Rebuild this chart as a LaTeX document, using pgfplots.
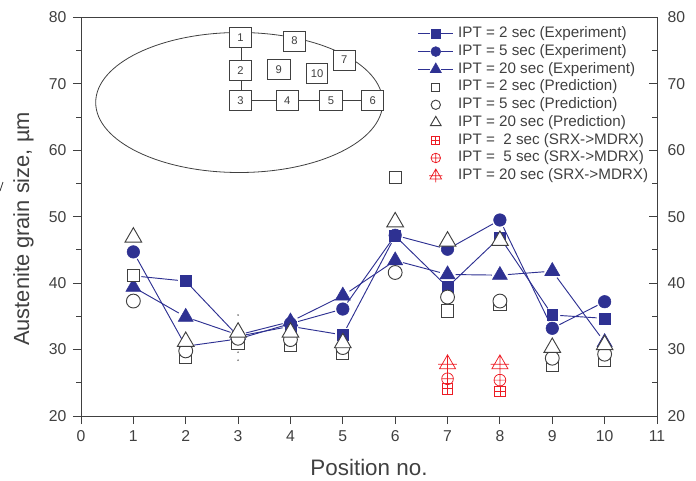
\documentclass[border=0pt]{standalone}
\usepackage{fontspec}
\usepackage{pgfplots}
\usepackage{pgfplotstable}
\pgfplotsset{compat=1.18}
\usetikzlibrary{plotmarks}
\setmainfont{Liberation Sans}

\definecolor{navy}{RGB}{46,49,146}
\definecolor{redm}{RGB}{237,28,36}
\definecolor{ink}{RGB}{64,64,64}

% red marks with a cross through them
\pgfdeclareplotmark{sqplus}{%
  \pgfpathrectangle{\pgfqpoint{-\pgfplotmarksize}{-\pgfplotmarksize}}{\pgfqpoint{2\pgfplotmarksize}{2\pgfplotmarksize}}%
  \pgfpathmoveto{\pgfqpoint{-\pgfplotmarksize}{0pt}}\pgfpathlineto{\pgfqpoint{\pgfplotmarksize}{0pt}}%
  \pgfpathmoveto{\pgfqpoint{0pt}{-\pgfplotmarksize}}\pgfpathlineto{\pgfqpoint{0pt}{\pgfplotmarksize}}%
  \pgfusepathqstroke}
\pgfdeclareplotmark{triplus}{%
  \pgfpathmoveto{\pgfqpointpolar{90}{\pgfplotmarksize}}%
  \pgfpathlineto{\pgfqpointpolar{210}{\pgfplotmarksize}}%
  \pgfpathlineto{\pgfqpointpolar{330}{\pgfplotmarksize}}%
  \pgfpathclose
  \pgfpathmoveto{\pgfqpoint{0pt}{\pgfplotmarksize}}\pgfpathlineto{\pgfqpoint{0pt}{-\pgfplotmarksize}}%
  \pgfpathmoveto{\pgfqpointpolar{180}{\pgfplotmarksize}}\pgfpathlineto{\pgfqpointpolar{0}{\pgfplotmarksize}}%
  \pgfusepathqstroke}

\pgfplotstableread{
x y
1 41.1
2 40.3
3 32.0
4 33.5
5 32.2
6 47.1
7 39.4
8 46.9
9 35.2
10 34.7
}\expA
\pgfplotstableread{
x y
1 44.7
2 30.5
3 31.6
4 33.9
5 36.1
6 47.2
7 45.1
8 49.5
9 33.2
10 37.2
}\expB
\pgfplotstableread{
x y
1 39.4
2 34.9
3 32.2
4 34.2
5 38.1
6 43.4
7 41.3
8 41.2
9 41.8
10 31.1
}\expC
\pgfplotstableread{
x y
1 41.2
2 28.9
3 31.0
4 30.7
5 29.5
6 55.9
7 35.8
8 36.8
9 27.6
10 28.4
}\preA
\pgfplotstableread{
x y
1 37.3
2 29.8
3 31.7
4 31.5
5 30.3
6 41.6
7 37.9
8 37.3
9 28.7
10 29.3
}\preB
\pgfplotstableread{
x y
1 46.9
2 31.2
3 32.6
4 32.6
5 31.0
6 49.2
7 46.3
8 46.4
9 30.3
10 30.7
}\preC
\pgfplotstableread{
x y
7 24.1
8 23.7
}\redA
\pgfplotstableread{
x y
7 25.6
8 25.4
}\redB
\pgfplotstableread{
x y
7 27.8
8 27.8
}\redC
\pgfplotstableread{
x y
3 35.2
3 29.6
3 28.4
}\stray

\pgfplotsset{
  seg/.style={navy, line width=0.7pt, mark=none, forget plot, shorten <=6pt, shorten >=6pt},
  legexp/.style={legend image code/.code={
    \draw[navy, line width=0.7pt] (0pt,0pt)--(9pt,0pt) (17.5pt,0pt)--(26.5pt,0pt);
    \draw[##1, mark size=#1] plot coordinates {(13.25pt,0pt)};}},
  legmark/.style={legend image code/.code={
    \draw[##1, mark size=#1] plot coordinates {(13.25pt,0pt)};}},
  open/.style={only marks, ink, line width=0.7pt, mark options={fill=white, draw=ink}},
  filled/.style={only marks, navy, mark options={fill=navy, draw=navy}},
  redmark/.style={only marks, redm, line width=0.55pt, mark options={draw=redm}},
  frame/.style={
    scale only axis, width=432pt, height=299pt, at={(60.75pt,48pt)}, anchor=south west,
    xmin=0, xmax=11, ymin=20, ymax=80,
    ytick={20,30,...,80}, minor y tick num=1,
    major tick length=6pt, minor tick length=3.4pt,
    axis line style={ink, line width=0.7pt},
    every tick/.style={ink, line width=0.7pt},
    tick label style={font=\fontsize{11.8}{14}\selectfont, text=ink},
    /pgf/number format/assume math mode=true,
  },
}
% one line piece between neighbouring positions, so it can stop short of the marks
\newcommand{\oneseg}[3]{\addplot[seg, restrict x to domain=#2:#3] table {#1};}
\newcommand{\segs}[1]{\oneseg{#1}{1}{2}\oneseg{#1}{2}{3}\oneseg{#1}{3}{4}\oneseg{#1}{4}{5}%
  \oneseg{#1}{5}{6}\oneseg{#1}{6}{7}\oneseg{#1}{7}{8}\oneseg{#1}{8}{9}\oneseg{#1}{9}{10}}

\begin{document}
\begin{tikzpicture}
\path[use as bounding box] (0,0) rectangle (522pt,360pt);

% right-hand scale, ticks point inward
\begin{axis}[frame, axis x line=none, axis y line*=right, tick align=inside,
  yticklabel pos=right, yticklabel style={xshift=4.5pt}]
\end{axis}

\begin{axis}[frame, tick align=outside, xtick={0,1,...,11}, xtick pos=bottom, ytick pos=left,
  yticklabel style={xshift=-1.5pt}, xticklabel style={yshift=-1.5pt},
  legend style={at={(0.584,0.977)}, anchor=north west, draw=none, fill=none, inner sep=0pt,
    font=\fontsize{11.4}{13}\selectfont, text=ink, row sep=2.7pt,
    nodes={inner sep=0pt, text height=8.2pt, text depth=2.4pt}},
  legend cell align=left]

\segs{\expA}
\segs{\expB}
\segs{\expC}

\addplot[filled, mark=square*, mark size=4.1pt, legexp=3.1pt] table {\expA};
\addlegendentry{\ IPT = 2 sec (Experiment)}
\addplot[filled, mark=*, mark size=4.7pt, legexp=3.7pt] table {\expB};
\addlegendentry{\ IPT = 5 sec (Experiment)}
\addplot[filled, mark=triangle*, mark size=6.5pt, legexp=4.8pt] table {\expC};
\addlegendentry{\ IPT = 20 sec (Experiment)}
\addplot[open, mark=square*, mark size=4.6pt, legmark=3pt] table {\preA};
\addlegendentry{\ IPT = 2 sec (Prediction)}
\addplot[open, mark=*, mark size=5.2pt, legmark=3.5pt] table {\preB};
\addlegendentry{\ IPT = 5 sec (Prediction)}
\addplot[open, mark=triangle*, mark size=7.2pt, legmark=4.6pt] table {\preC};
\addlegendentry{\ IPT = 20 sec (Prediction)}
\addplot[redmark, mark=sqplus, mark size=3.9pt, legmark=3pt] table {\redA};
\addlegendentry{\ IPT = \ 2 sec (SRX->MDRX)}
\addplot[redmark, mark=oplus, mark size=4.4pt, legmark=3.6pt] table {\redB};
\addlegendentry{\ IPT = \ 5 sec (SRX->MDRX)}
\addplot[redmark, mark=triplus, mark size=7pt, legmark=5pt] table {\redC};
\addlegendentry{\ IPT = 20 sec (SRX->MDRX)}

\addplot[only marks, forget plot, mark=*, mark size=0.4pt, gray] table {\stray};
\end{axis}

% pixel coordinates of the reference for labels and the inset sketch
\begin{scope}[x=0.75pt, y=-0.75pt, yshift=360pt]
  \node[font=\fontsize{16.8}{20}\selectfont, text=ink] at (369,467) {Position no.};
  \node[font=\fontsize{16.4}{20}\selectfont, text=ink, rotate=90] at (23.5,229) {Austenite grain size, µm};
  \draw[ink, line width=0.6pt] (0,191)--(3,182);
  \draw[ink, line width=0.6pt] (239.2,102.5) ellipse [x radius=143.5, y radius=70];
  \draw[ink, line width=0.7pt] (241.7,37)--(241.7,100.7)--(372.8,100.7);
  \foreach \cx/\cy/\w/\n in {240.5/37.3/22.3/1, 240.5/70.3/22.3/2, 240.5/100.7/22.3/3,
      287.3/100.7/22.6/4, 331/100.7/23.3/5, 372.8/100.3/22.3/6, 344.3/60/22/7,
      294.5/41/22.3/8, 278.7/69.3/23.3/9, 317/73.8/21.3/10}
    \node[draw=ink, line width=0.7pt, fill=white, inner sep=0pt, minimum width=\w*0.75pt,
      minimum height=15pt, text=ink, font=\fontsize{8.4}{10}\selectfont] at (\cx,\cy) {\n};
\end{scope}
\end{tikzpicture}
\end{document}
